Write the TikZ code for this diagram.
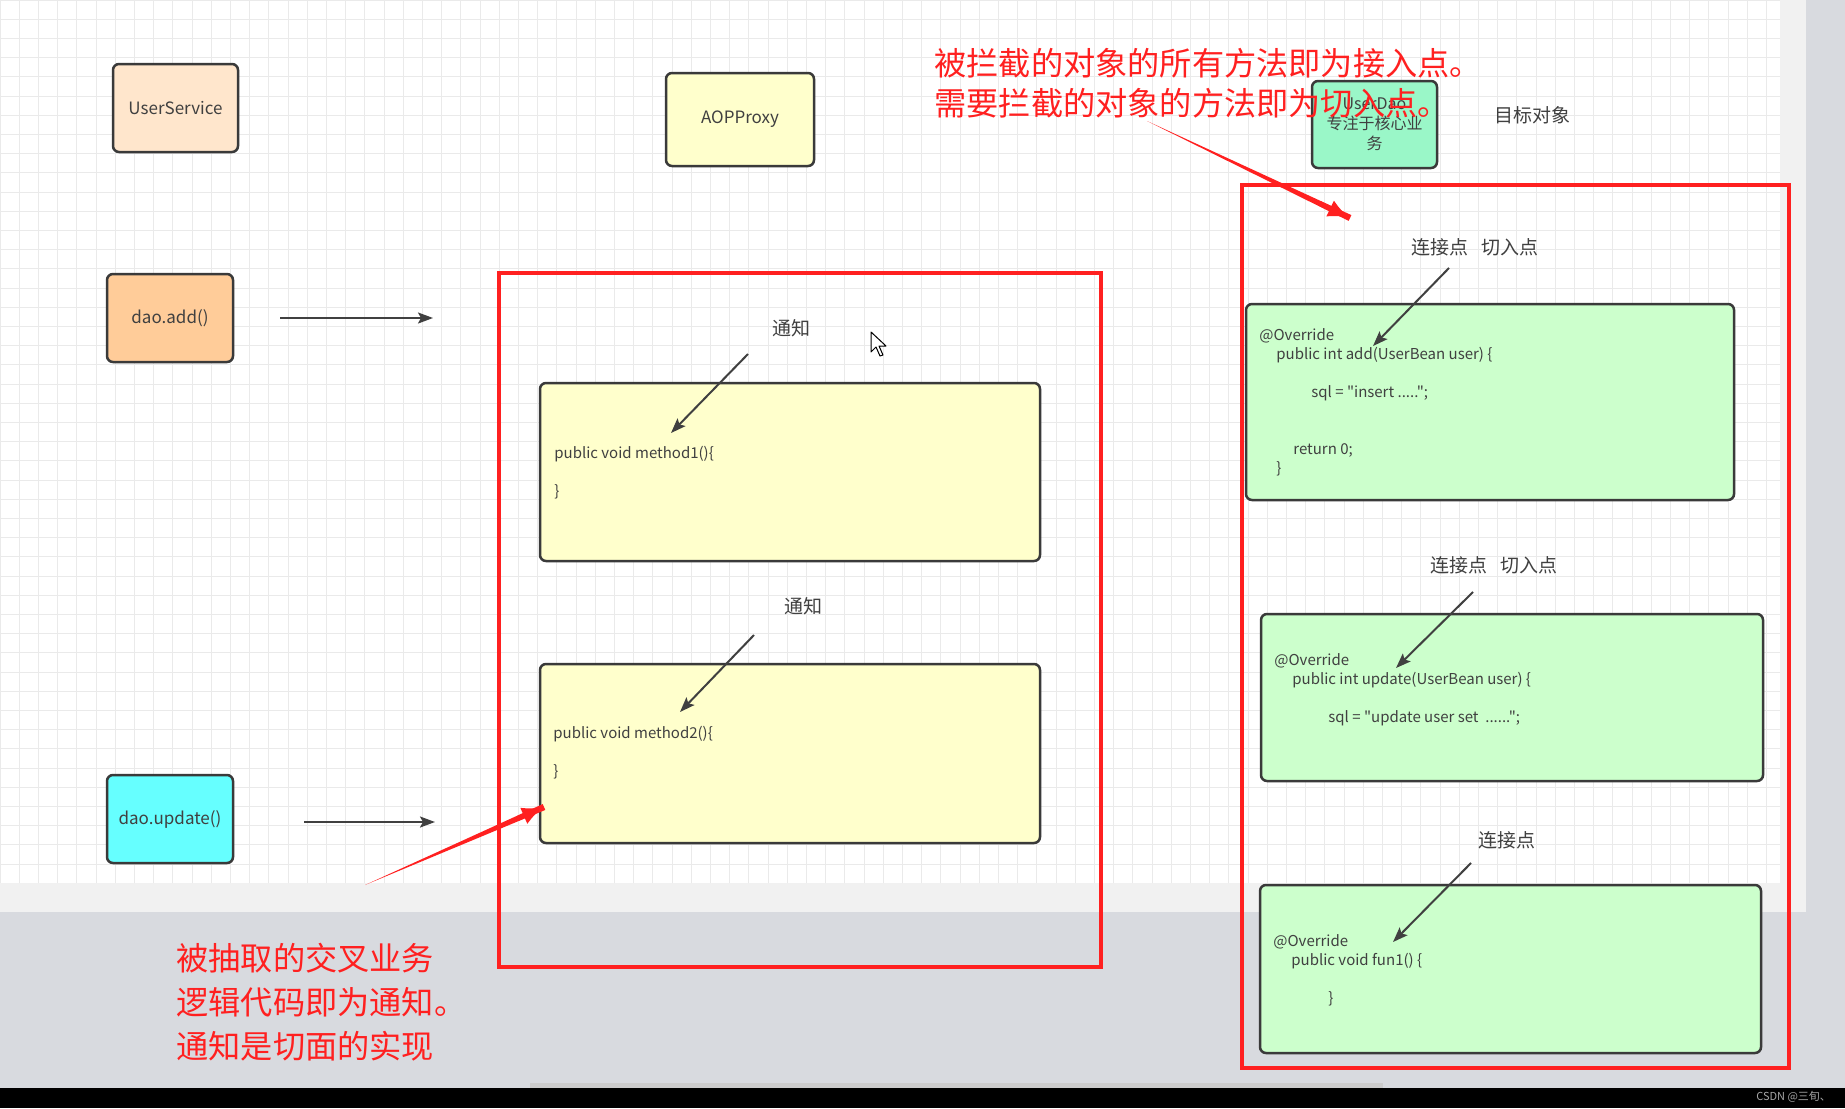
\documentclass[tikz,border=0pt]{standalone}
\usepackage{fontspec}
\setmainfont{Noto Sans CJK SC}[Ligatures=TeXOff]
\usepackage{tikz}
\usetikzlibrary{arrows,arrows.meta,calc}

\definecolor{pagegrey}{RGB}{216,218,223}
\definecolor{bandgrey}{RGB}{241,241,241}
\definecolor{gridline}{RGB}{234,234,234}
\definecolor{boxline}{RGB}{58,58,58}
\definecolor{inkgrey}{RGB}{64,64,64}
\definecolor{notered}{RGB}{255,32,32}
\definecolor{peach}{RGB}{255,230,204}
\definecolor{daoorange}{RGB}{255,204,153}
\definecolor{daocyan}{RGB}{102,255,255}
\definecolor{proxyyellow}{RGB}{255,255,204}
\definecolor{daomint}{RGB}{154,247,200}
\definecolor{codegreen}{RGB}{204,255,204}

\begin{document}
\begin{tikzpicture}[x=0.5pt,y=-0.5pt,>={Stealth[length=7.5pt,width=5.5pt,inset=1.5pt]},
    box/.style={draw=boxline,line width=1.25pt,rounded corners=3pt,text=inkgrey,
                font=\fontsize{8.5}{10}\selectfont},
    code/.style={align=left,anchor=west,inner sep=0pt,text=inkgrey,
                 font=\fontsize{7.5}{9.5}\selectfont},
    tag/.style={text=inkgrey,font=\fontsize{9.5}{11}\selectfont},
    pointer/.style={->,draw=inkgrey,line width=1pt},
    frame/.style={draw=notered,line width=2pt},
    remark/.style={align=left,anchor=west,inner sep=0pt,text=notered,
                   font=\fontsize{16.1}{20}\selectfont},
    redhead/.style={notered,line width=2.5pt,-{Latex[length=11pt,width=9pt]}}]

  \useasboundingbox (0,0) rectangle (1845,1108);
  \fill[pagegrey] (0,0) rectangle (1845,1088);
  \fill[bandgrey] (0,0) rectangle (1806,912);
  \fill[white] (0,0) rectangle (1780,883);
  \draw[gridline,line width=0.5pt,step=9.6pt] (0,0) grid (1780,883);
  \fill[black] (0,1088) rectangle (1845,1108);
  \fill[gray!40] (530,1083) rectangle (1383,1088);

  \node[box,fill=peach,minimum width=62.5pt,minimum height=44pt] (svc) at (175.5,108) {UserService};
  \node[box,fill=daoorange,minimum width=63pt,minimum height=44pt] (add) at (170,318) {dao.add()};
  \node[box,fill=daocyan,minimum width=63pt,minimum height=44pt] (upd) at (170,819) {dao.update()};
  \node[box,fill=proxyyellow,minimum width=74pt,minimum height=46.5pt] (proxy) at (740,119.5) {AOPProxy};
  \node[box,fill=daomint,minimum width=62.5pt,minimum height=43.5pt,align=center,
        font=\fontsize{8}{10}\selectfont] (dao) at (1374.5,124.5) {UserDao\\专注于核心业\\务};
  \node[tag] (goal) at (1532,115) {目标对象};

  \coordinate (addto) at (433,318);
  \coordinate (updfrom) at (304,822);
  \coordinate (updto) at (435,822);
  \draw[pointer,shorten <=23pt] (add) -- (addto);
  \draw[pointer] (updfrom) -- (updto);

  \draw[frame] (499,273) rectangle (1101,967);
  \draw[frame] (1242,185) rectangle (1789,1068);

  \node[box,fill=proxyyellow,minimum width=250pt,minimum height=89pt] (m1) at (790,472) {};
  \node[box,fill=proxyyellow,minimum width=250pt,minimum height=89.5pt] (m2) at (790,753.5) {};
  \node[code] (m1code) at (554,472.5) {public void method1()\{\\[9.5pt]\}};
  \node[code] (m2code) at (553,753) {public void method2()\{\\[9.5pt]\}};
  \node[tag] (adv1) at (791,328) {通知};
  \node[tag] (adv2) at (803,606) {通知};

  \node[box,fill=codegreen,minimum width=244pt,minimum height=98pt] (j1) at (1490,402) {};
  \node[box,fill=codegreen,minimum width=251pt,minimum height=83.5pt] (j2) at (1512,697.5) {};
  \node[box,fill=codegreen,minimum width=250.5pt,minimum height=84pt] (j3) at (1510.5,969) {};
  \node[code] (j1code) at (1259,402.5) {@Override\\\hspace*{8.5pt}public int add(UserBean user) \{\\[9.5pt]\hspace*{26pt}sql = "insert .....";\\[19pt]\hspace*{17pt}return 0;\\\hspace*{8.5pt}\}};
  \node[code] (j2code) at (1274,689.5) {@Override\\\hspace*{9pt}public int update(UserBean user) \{\\[9.5pt]\hspace*{27pt}sql = "update user set\ \ ......";};
  \node[code] (j3code) at (1273,970) {@Override\\\hspace*{9pt}public void fun1() \{\\[9.5pt]\hspace*{27.5pt}\}};
  \node[tag] (jp1) at (1475,247) {连接点\hspace{0.65em}切入点};
  \node[tag] (jp2) at (1494,565) {连接点\hspace{0.65em}切入点};
  \node[tag] (jp3) at (1507,840) {连接点};

  \coordinate (adv1from) at (748,354);
  \coordinate (adv1to) at (671,433);
  \coordinate (adv2from) at (754,635);
  \coordinate (adv2to) at (680,712);
  \coordinate (jp1from) at (1449,268);
  \coordinate (jp1to) at (1373,346);
  \coordinate (jp2from) at (1473,592);
  \coordinate (jp2to) at (1396,668);
  \coordinate (jp3from) at (1471,863);
  \coordinate (jp3to) at (1393,942);
  \draw[pointer] (adv1from) -- (adv1to);
  \draw[pointer] (adv2from) -- (adv2to);
  \draw[pointer] (jp1from) -- (jp1to);
  \draw[pointer] (jp2from) -- (jp2to);
  \draw[pointer] (jp3from) -- (jp3to);

  \draw[fill=white,draw=black,line width=0.5pt,line join=round]
    (871,332) -- (871,352) -- (876,347) -- (880,356) -- (883,355) -- (879,346) -- (886,346) -- cycle;

  \node[remark] (cutnote) at (934,83) {被拦截的对象的所有方法即为接入点。\\需要拦截的对象的方法即为切入点。};
  \node[remark,font=\fontsize{16.1}{22}\selectfont] (advnote) at (176,1002) {被抽取的交叉业务\\逻辑代码即为通知。\\通知是切面的实现};

  \coordinate (cutfrom) at (1147,121);
  \coordinate (cutto) at (1350,218);
  \coordinate (advfrom) at (365,885);
  \coordinate (advto) at (544,807);
  \fill[notered] (cutfrom) -- ($(cutto)!1.6pt!90:(cutfrom)$) -- ($(cutto)!1.6pt!-90:(cutfrom)$) -- cycle;
  \draw[redhead] ($(cutfrom)!0.85!(cutto)$) -- (cutto);
  \fill[notered] (advfrom) -- ($(advto)!1.6pt!90:(advfrom)$) -- ($(advto)!1.6pt!-90:(advfrom)$) -- cycle;
  \draw[redhead] ($(advfrom)!0.85!(advto)$) -- (advto);

  \node[anchor=east,text=gray!70,font=\fontsize{5.5}{6}\selectfont] (mark) at (1838,1097) {CSDN @三旬、};
\end{tikzpicture}
\end{document}
